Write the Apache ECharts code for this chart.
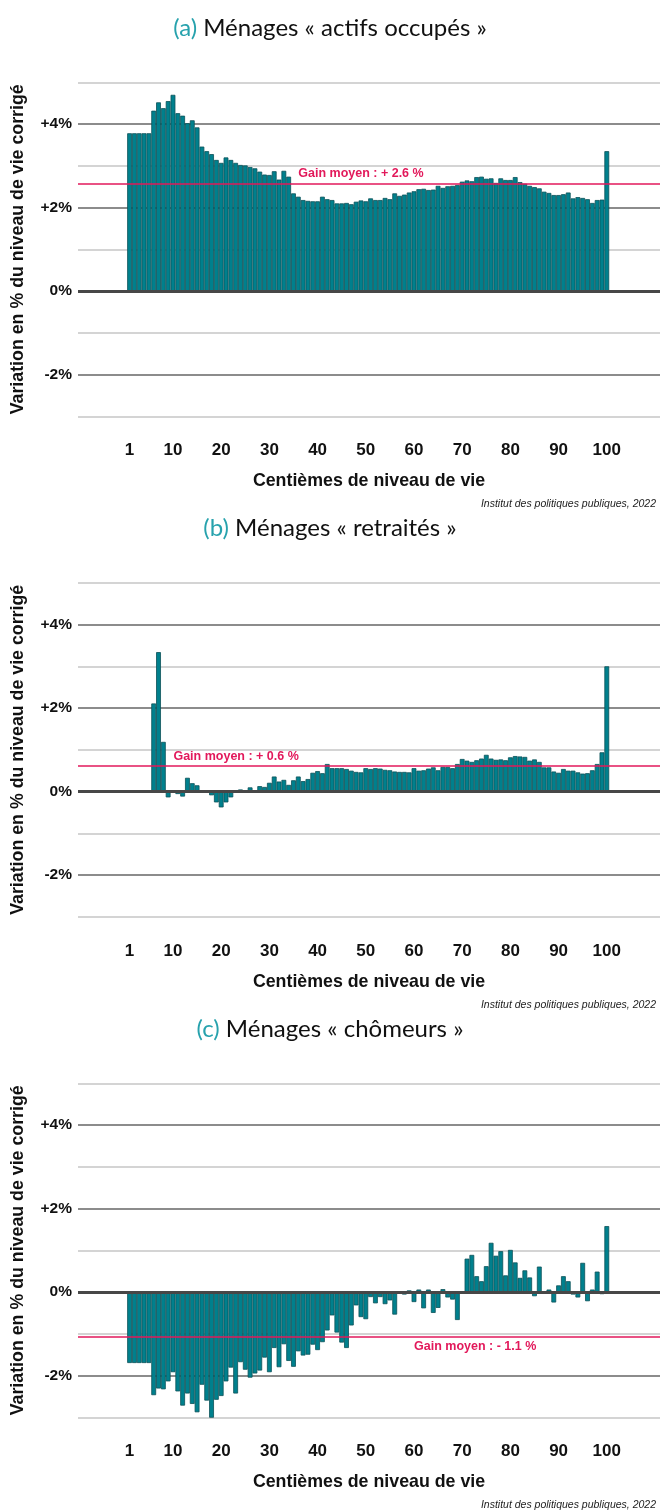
<!DOCTYPE html>
<html><head><meta charset="utf-8">
<script src="https://cdn.jsdelivr.net/npm/echarts@6/dist/echarts.min.js"></script>
<style>html,body{margin:0;padding:0;background:#fff}#c{width:660px;height:1511px}</style>
</head><body><div id="c"></div>
<script>
// ---- data ----
const centiles = Array.from({length: 100}, (_, i) => i + 1);
const xTickValues = [1, 10, 20, 30, 40, 50, 60, 70, 80, 90, 100];
const yTickLabels = {'4': '+4%', '2': '+2%', '0': '0%', '-2': '-2%'};

const actifs = [
  3.78, 3.78, 3.78, 3.78, 3.78, 4.32, 4.52, 4.38, 4.55, 4.70,
  4.26, 4.20, 4.02, 4.09, 3.92, 3.46, 3.35, 3.28, 3.14, 3.07,
  3.20, 3.14, 3.07, 3.02, 3.01, 2.97, 2.94, 2.86, 2.79, 2.78,
  2.87, 2.67, 2.88, 2.74, 2.34, 2.26, 2.18, 2.16, 2.15, 2.15,
  2.26, 2.20, 2.18, 2.10, 2.10, 2.11, 2.08, 2.14, 2.17, 2.15,
  2.22, 2.18, 2.18, 2.23, 2.20, 2.34, 2.28, 2.31, 2.36, 2.39,
  2.44, 2.45, 2.42, 2.43, 2.52, 2.47, 2.51, 2.52, 2.54, 2.62,
  2.65, 2.63, 2.73, 2.74, 2.69, 2.70, 2.59, 2.70, 2.66, 2.66,
  2.73, 2.61, 2.57, 2.52, 2.49, 2.46, 2.38, 2.35, 2.30, 2.30,
  2.32, 2.36, 2.22, 2.25, 2.23, 2.20, 2.11, 2.18, 2.19, 3.35
];
const retraites = [
  0.03, 0.03, 0.03, 0.03, 0.03, 2.11, 3.34, 1.19, -0.14, -0.02,
  -0.06, -0.12, 0.33, 0.20, 0.15, -0.02, -0.02, -0.09, -0.26, -0.38,
  -0.26, -0.14, -0.02, 0.05, 0.02, 0.10, 0.03, 0.13, 0.11, 0.21,
  0.36, 0.24, 0.28, 0.16, 0.27, 0.36, 0.25, 0.30, 0.45, 0.49,
  0.44, 0.66, 0.56, 0.56, 0.56, 0.54, 0.50, 0.47, 0.46, 0.56,
  0.54, 0.56, 0.55, 0.52, 0.51, 0.48, 0.47, 0.47, 0.46, 0.56,
  0.50, 0.51, 0.55, 0.58, 0.51, 0.59, 0.59, 0.56, 0.66, 0.78,
  0.74, 0.71, 0.75, 0.79, 0.88, 0.79, 0.76, 0.77, 0.75, 0.82,
  0.85, 0.84, 0.83, 0.74, 0.77, 0.71, 0.58, 0.58, 0.48, 0.45,
  0.54, 0.50, 0.50, 0.46, 0.43, 0.44, 0.51, 0.66, 0.94, 3.00
];
const chomeurs = [
  -1.70, -1.70, -1.70, -1.70, -1.70, -2.47, -2.31, -2.33, -2.14, -1.92,
  -2.38, -2.72, -2.43, -2.68, -2.88, -2.22, -2.60, -3.10, -2.58, -2.49,
  -2.14, -1.81, -2.43, -1.68, -1.86, -2.05, -1.95, -1.88, -1.57, -1.92,
  -1.34, -1.80, -1.25, -1.65, -1.79, -1.42, -1.52, -1.50, -1.26, -1.39,
  -1.20, -0.92, -0.56, -0.97, -1.21, -1.34, -0.80, -0.32, -0.60, -0.65,
  -0.12, -0.27, -0.12, -0.29, -0.20, -0.54, -0.01, -0.06, 0.04, -0.24,
  0.06, -0.39, 0.06, -0.50, -0.38, 0.07, -0.13, -0.18, -0.67, -0.01,
  0.80, 0.89, 0.38, 0.26, 0.62, 1.18, 0.87, 0.98, 0.40, 1.01,
  0.71, 0.34, 0.52, 0.35, -0.10, 0.61, 0.02, 0.06, -0.25, 0.16,
  0.38, 0.26, -0.06, -0.13, 0.70, -0.22, 0.06, 0.49, -0.05, 1.58
];
const panelLetters = ['(a)', '(b)', '(c)'];
const panelTitles = ['Ménages « actifs occupés »', 'Ménages « retraités »', 'Ménages « chômeurs »'];
const meanValues = [2.58, 0.62, -1.07];
const meanLabels = ['Gain moyen : + 2.6 %', 'Gain moyen : + 0.6 %', 'Gain moyen : - 1.1 %'];
const meanLabelCentile = [49, 23.1, 72.7];
const meanLabelBelow = [false, false, true];
const xAxisName = 'Centièmes de niveau de vie';
const yAxisName = 'Variation en % du niveau de vie corrigé';
const sourceText = 'Institut des politiques publiques, 2022';

// ---- chart ----
const seriesValues = [actifs, retraites, chomeurs];
const PANEL = 500.5;
const TEAL = '#00808d', PINK = '#e2195b';
const FONT = 'Liberation Sans, Arial, sans-serif';
const grids = [], xAxes = [], yAxes = [], series = [], titles = [], graphics = [];
const lightC = '#d4d4d4', darkC = '#8c8c8c';

seriesValues.forEach((vals, k) => {
  const off = k * PANEL;
  grids.push({left: 78, right: 0, top: 82.3 + off, height: 334});
  xAxes.push({
    type: 'value', gridIndex: k, min: -9.705, max: 111.04,
    axisLine: {show: false, onZero: false},
    axisTick: {show: false}, splitLine: {show: false},
    axisLabel: {customValues: xTickValues, margin: 26, color: '#111',
      fontFamily: FONT, fontWeight: 'bold', fontSize: 17},
    name: xAxisName, nameLocation: 'middle', nameGap: 56,
    nameTextStyle: {fontFamily: FONT, fontWeight: 'bold', fontSize: 17.8, color: '#111'}
  });
  yAxes.push({
    type: 'value', gridIndex: k, min: -3, max: 5, interval: 1,
    axisLine: {show: false}, axisTick: {show: false},
    splitLine: {show: true, lineStyle: {width: 1.8,
      color: [lightC, darkC, lightC, darkC, lightC, darkC, lightC, darkC, lightC]}},
    axisLabel: {formatter: v => yTickLabels[String(v)] || '', margin: 6, color: '#111',
      fontFamily: FONT, fontWeight: 'bold', fontSize: 15.5},
    name: yAxisName, nameLocation: 'middle', nameGap: 51, nameRotate: 90,
    nameTextStyle: {fontFamily: FONT, fontWeight: 'bold', fontSize: 17.8, color: '#111'}
  });
  const mean = meanValues[k], c = meanLabelCentile[k];
  series.push({
    type: 'bar', xAxisIndex: k, yAxisIndex: k,
    data: centiles.map((cc, i) => [cc, vals[i]]),
    barWidth: 4.82,
    itemStyle: {color: TEAL, borderColor: '#0b5058', borderWidth: 0.8},
    animation: false, silent: true,
    markLine: {
      symbol: ['none', 'none'], silent: true, animation: false,
      data: [
        {yAxis: 0, lineStyle: {color: '#474747', width: 3.2, type: 'solid'}, label: {show: false}},
        {yAxis: mean, lineStyle: {color: PINK, width: 1.6, type: 'solid'}, label: {show: false}}
      ]
    },
    markPoint: {
      silent: true, animation: false,
      data: [{
        coord: [c, mean], symbol: 'rect', symbolSize: [2, 1],
        itemStyle: {color: 'rgba(0,0,0,0)'},
        label: {show: true, formatter: meanLabels[k],
          position: meanLabelBelow[k] ? 'bottom' : 'top',
          distance: 2.5, color: PINK, fontWeight: 'bold', fontSize: 12.5, fontFamily: FONT}
      }]
    }
  });
  titles.push({
    text: '{l|' + panelLetters[k] + '} ' + panelTitles[k],
    left: 'center', top: 14 + off, padding: 0,
    textStyle: {fontFamily: 'Lato', fontWeight: 'normal', fontSize: 24, color: '#111', lineHeight: 28,
      rich: {l: {fontFamily: 'Lato', fontSize: 24, color: '#27a2ad', lineHeight: 28}}}
  });
  graphics.push({
    type: 'text', right: 4, top: 499 + off,
    style: {text: sourceText, font: 'italic 10.5px "Liberation Sans", Arial, sans-serif', fill: '#222'}
  });
});

const chart = echarts.init(document.getElementById('c'), null, {renderer: 'canvas'});
chart.setOption({
  animation: false,
  title: titles,
  grid: grids, xAxis: xAxes, yAxis: yAxes, series: series,
  graphic: graphics
});
</script>
</body></html>
